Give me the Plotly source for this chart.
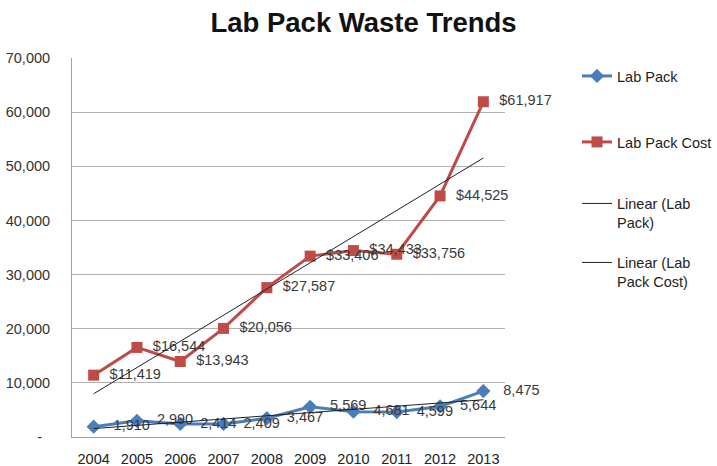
import numpy as np
import plotly.graph_objects as go

years = ["2004", "2005", "2006", "2007", "2008", "2009", "2010", "2011", "2012", "2013"]
lab_pack = [1910, 2990, 2414, 2409, 3467, 5569, 4681, 4599, 5644, 8475]
lab_pack_cost = [11419, 16544, 13943, 20056, 27587, 33406, 34433, 33756, 44525, 61917]
y_tick_vals = [0, 10000, 20000, 30000, 40000, 50000, 60000, 70000]
y_tick_text = ["-\u00a0\u00a0", "10,000", "20,000", "30,000", "40,000", "50,000", "60,000", "70,000"]

idx = np.arange(len(years))
def trend(vals):
    k, b = np.polyfit(idx, np.array(vals, dtype=float), 1)
    return (k * idx + b).tolist()

FONT = "Liberation Sans, Arial, sans-serif"
BLUE = "#4a7ebb"
RED = "#be4b48"
FS = 14.5
NB = "\u00a0"

W, H = 717, 466
ML, MR, MT, MB = 72, 0, 58, 29
PW = W - ML - MR
PH = H - MT - MB
PLOT_RIGHT = 505

fig = go.Figure()
fig.add_trace(go.Scatter(
    x=years, y=lab_pack, name="Lab Pack", mode="lines+markers+text",
    line=dict(color=BLUE, width=3), marker=dict(symbol="diamond", size=11, color=BLUE),
    text=[NB * 3 + f"{v:,}" for v in lab_pack], textposition="middle right",
    textfont=dict(size=FS, color="#3a3a3a", family=FONT),
    legend="legend", cliponaxis=False))
fig.add_trace(go.Scatter(
    x=years, y=lab_pack_cost, name="Lab Pack Cost", mode="lines+markers+text",
    line=dict(color=RED, width=3), marker=dict(symbol="square", size=11, color=RED),
    text=[NB * 2 + f"${v:,}" for v in lab_pack_cost], textposition="middle right",
    textfont=dict(size=FS, color="#3a3a3a", family=FONT),
    legend="legend2", cliponaxis=False))
fig.add_trace(go.Scatter(
    x=years, y=trend(lab_pack), name="Linear (Lab<br>Pack)", mode="lines",
    line=dict(color="#202020", width=1), legend="legend3"))
fig.add_trace(go.Scatter(
    x=years, y=trend(lab_pack_cost), name="Linear (Lab<br>Pack Cost)", mode="lines",
    line=dict(color="#202020", width=1), legend="legend4"))

def leg(ypx):
    return dict(x=(577 - ML) / PW, xanchor="left", y=(H - MB - ypx) / PH, yanchor="middle",
                font=dict(size=FS, color="#222222", family=FONT), valign="top",
                bgcolor="rgba(0,0,0,0)", itemwidth=30)

fig.update_layout(
    width=W, height=H, showlegend=True,
    margin=dict(l=ML, r=MR, t=MT, b=MB, autoexpand=False),
    paper_bgcolor="white", plot_bgcolor="white",
    font=dict(family=FONT, size=FS, color="#222222"),
    title=dict(text="<b>Lab Pack Waste Trends</b>", x=0.507, xanchor="center",
               y=0.951, yanchor="middle", font=dict(size=27.5, color="#111111", family=FONT)),
    legend=leg(76), legend2=leg(142), legend3=leg(213), legend4=leg(272),
    xaxis=dict(type="category", domain=[0, (PLOT_RIGHT - ML) / PW], automargin=False,
               showgrid=False, showline=True, linecolor="#a0a0a0",
               linewidth=1, ticks="", tickfont=dict(size=FS, color="#222222"),
               ticklabelstandoff=9, range=[-0.5, 9.5]),
    yaxis=dict(range=[0, 70000], tickvals=y_tick_vals, ticktext=y_tick_text, automargin=False,
               showgrid=True, gridcolor="#b0b0b0", gridwidth=1,
               showline=True, linecolor="#a0a0a0", linewidth=1, zeroline=False,
               ticks="", ticklabelstandoff=18, tickfont=dict(size=FS, color="#333333")),
)
fig.write_html("out.html", config={"displayModeBar": False},
               post_script="document.body.style.margin='0px';")
